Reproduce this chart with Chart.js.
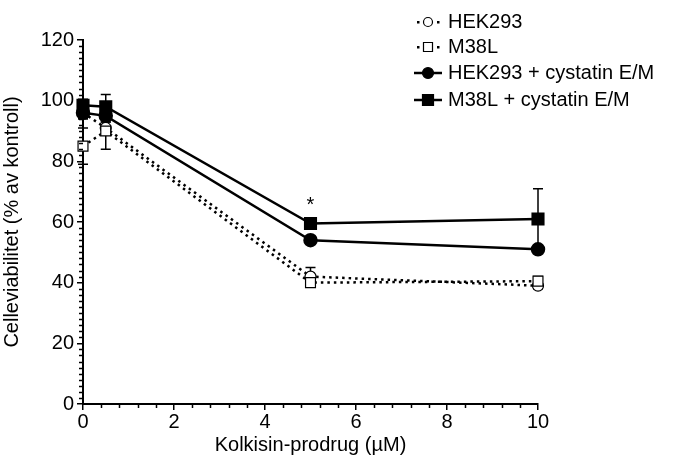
<!DOCTYPE html>
<html>
<head>
<meta charset="utf-8">
<script src="https://cdn.jsdelivr.net/npm/chart.js@4.4.1/dist/chart.umd.min.js"></script>
<style>
  html, body { margin: 0; padding: 0; background: #fff; }
  #wrap { width: 686px; height: 464px; }
</style>
</head>
<body>
<div id="wrap"><canvas id="viab" width="686" height="464"></canvas></div>
<script>
// konsentrasjoner (µM)
const doses = [0, 0.5, 5, 10];

// middelverdier og feil (% av kontroll)
const hek293 = [96, 91, 42, 39];
const hek293Err = [2, 2, 3, 1];
const m38l = [85, 90, 40, 40.5];
const m38lErr = [6, 6, 1.5, 1.5];
const hek293Cyst = [96, 95, 54, 51];
const hek293CystErr = [2, 2, 1, 1];
const m38lCyst = [98.5, 98, 59.5, 61];
const m38lCystErr = [2, 4, 1, 10];

const xTicks = [0, 2, 4, 6, 8, 10];
const yTicks = [0, 20, 40, 60, 80, 100, 120];

const FONT = "'Liberation Sans', Arial, sans-serif";

function pts(ys) {
  return ys.map((y, i) => ({ x: doses[i], y: y }));
}

// error bars from the errors array of each dataset
const errorBars = {
  id: 'errorBars',
  beforeDatasetsDraw(chart) {
    const ctx = chart.ctx;
    const xs = chart.scales.x, ys = chart.scales.y;
    ctx.save();
    ctx.strokeStyle = '#000';
    ctx.lineWidth = 1.5;
    chart.data.datasets.forEach(ds => {
      if (!ds.errors) return;
      ds.data.forEach((p, i) => {
        const e = ds.errors[i];
        const px = xs.getPixelForValue(p.x);
        const top = ys.getPixelForValue(p.y + e);
        const bot = ys.getPixelForValue(p.y - e);
        ctx.beginPath();
        ctx.moveTo(px, top); ctx.lineTo(px, bot);
        ctx.moveTo(px - 5, top); ctx.lineTo(px + 5, top);
        ctx.moveTo(px - 5, bot); ctx.lineTo(px + 5, bot);
        ctx.stroke();
      });
    });
    ctx.restore();
  }
};

// small ticks between the labelled ones
const minorTicks = {
  id: 'minorTicks',
  afterDraw(chart) {
    const ctx = chart.ctx;
    const xs = chart.scales.x, ys = chart.scales.y;
    ctx.save();
    ctx.strokeStyle = '#000';
    ctx.lineWidth = 1.5;
    ctx.beginPath();
    for (let v = 2; v < 120; v += 2) {
      if (v % 20 === 0) continue;
      const py = Math.round(ys.getPixelForValue(v)) + 0.5;
      ctx.moveTo(xs.left, py); ctx.lineTo(xs.left - 4, py);
    }
    for (let k = 1; k < 25; k++) {
      if (k % 5 === 0) continue;
      const px = Math.round(xs.getPixelForValue(k * 0.4)) + 0.5;
      ctx.moveTo(px, ys.bottom); ctx.lineTo(px, ys.bottom + 4);
    }
    ctx.stroke();

    // significance mark
    ctx.fillStyle = '#000';
    ctx.font = '20px ' + FONT;
    ctx.textAlign = 'center';
    ctx.textBaseline = 'middle';
    ctx.fillText('*', xs.getPixelForValue(5), ys.getPixelForValue(65.5));
    ctx.restore();
  }
};

function drawMarker(ctx, style, filled, x, y, r) {
  ctx.beginPath();
  if (style === 'circle') {
    ctx.arc(x, y, r, 0, Math.PI * 2);
  } else {
    ctx.rect(x - r, y - r, 2 * r, 2 * r);
  }
  ctx.fillStyle = filled ? '#000' : '#fff';
  ctx.fill();
  ctx.lineWidth = 1.2;
  ctx.strokeStyle = '#000';
  ctx.stroke();
}

// legend in the upper right, drawn like the GraphPad one
const sideLegend = {
  id: 'sideLegend',
  afterDraw(chart) {
    const ctx = chart.ctx;
    const rows = [22, 47, 73, 100];
    ctx.save();
    chart.data.datasets.forEach((ds, i) => {
      const y = rows[i];
      const cx = 428;
      const filled = ds.pointBackgroundColor === '#000';
      ctx.strokeStyle = '#000';
      ctx.fillStyle = '#000';
      if (filled) {
        ctx.lineWidth = 2.5;
        ctx.beginPath();
        ctx.moveTo(414, y); ctx.lineTo(442, y);
        ctx.stroke();
        drawMarker(ctx, ds.pointStyle, true, cx, y, 5.5);
      } else {
        ctx.fillRect(417, y - 1, 2.5, 2.5);
        ctx.fillRect(437, y - 1, 2.5, 2.5);
        drawMarker(ctx, ds.pointStyle, false, cx, y, 4.5);
      }
      ctx.fillStyle = '#000';
      ctx.font = '20px ' + FONT;
      ctx.textAlign = 'left';
      ctx.textBaseline = 'middle';
      ctx.fillText(ds.label, 448, y);
    });
    ctx.restore();
  }
};

const dotted = [2.5, 4];

new Chart(document.getElementById('viab'), {
  type: 'line',
  data: {
    datasets: [
      {
        label: 'HEK293', data: pts(hek293), errors: hek293Err,
        borderColor: '#000', borderWidth: 2.5, borderDash: dotted,
        pointStyle: 'circle', pointRadius: 5.5, pointBackgroundColor: '#fff',
        pointBorderColor: '#000', pointBorderWidth: 1.2, order: 4
      },
      {
        label: 'M38L', data: pts(m38l), errors: m38lErr,
        borderColor: '#000', borderWidth: 2.5, borderDash: dotted,
        pointStyle: 'rect', pointRadius: 7, pointBackgroundColor: '#fff',
        pointBorderColor: '#000', pointBorderWidth: 1.2, order: 3
      },
      {
        label: 'HEK293 + cystatin E/M', data: pts(hek293Cyst), errors: hek293CystErr,
        borderColor: '#000', borderWidth: 2.5,
        pointStyle: 'circle', pointRadius: 6, pointBackgroundColor: '#000',
        pointBorderColor: '#000', order: 2
      },
      {
        label: 'M38L + cystatin E/M', data: pts(m38lCyst), errors: m38lCystErr,
        borderColor: '#000', borderWidth: 2.5,
        pointStyle: 'rect', pointRadius: 7.5, pointBackgroundColor: '#000',
        pointBorderColor: '#000', order: 1
      }
    ]
  },
  options: {
    responsive: false,
    animation: false,
    clip: false,
    layout: { padding: { top: 40, right: 148, left: 0, bottom: 0 } },
    plugins: { legend: { display: false }, tooltip: { enabled: false } },
    scales: {
      x: {
        type: 'linear', min: 0, max: 10,
        afterBuildTicks: s => { s.ticks = xTicks.map(v => ({ value: v })); },
        afterFit: s => { s.height = 60; },
        grid: { drawOnChartArea: false, tickLength: 6, color: '#000', lineWidth: 1.5 },
        border: { color: '#000', width: 2 },
        ticks: { color: '#000', font: { family: FONT, size: 20 }, padding: 0, maxRotation: 0 },
        title: {
          display: true, text: 'Kolkisin-prodrug (µM)', color: '#000',
          font: { family: FONT, size: 20 }, padding: { top: 0, bottom: 7 }
        }
      },
      y: {
        type: 'linear', min: 0, max: 120,
        afterBuildTicks: s => { s.ticks = yTicks.map(v => ({ value: v })); },
        afterFit: s => { s.width = 83; },
        grid: { drawOnChartArea: false, tickLength: 6, color: '#000', lineWidth: 1.5 },
        border: { color: '#000', width: 2 },
        ticks: { color: '#000', font: { family: FONT, size: 20 }, padding: 3 },
        title: {
          display: true, text: 'Celleviabilitet (% av kontroll)', color: '#000',
          font: { family: FONT, size: 20 }, padding: { top: 0, bottom: 8 }
        }
      }
    }
  },
  plugins: [errorBars, minorTicks, sideLegend]
});
</script>
</body>
</html>
